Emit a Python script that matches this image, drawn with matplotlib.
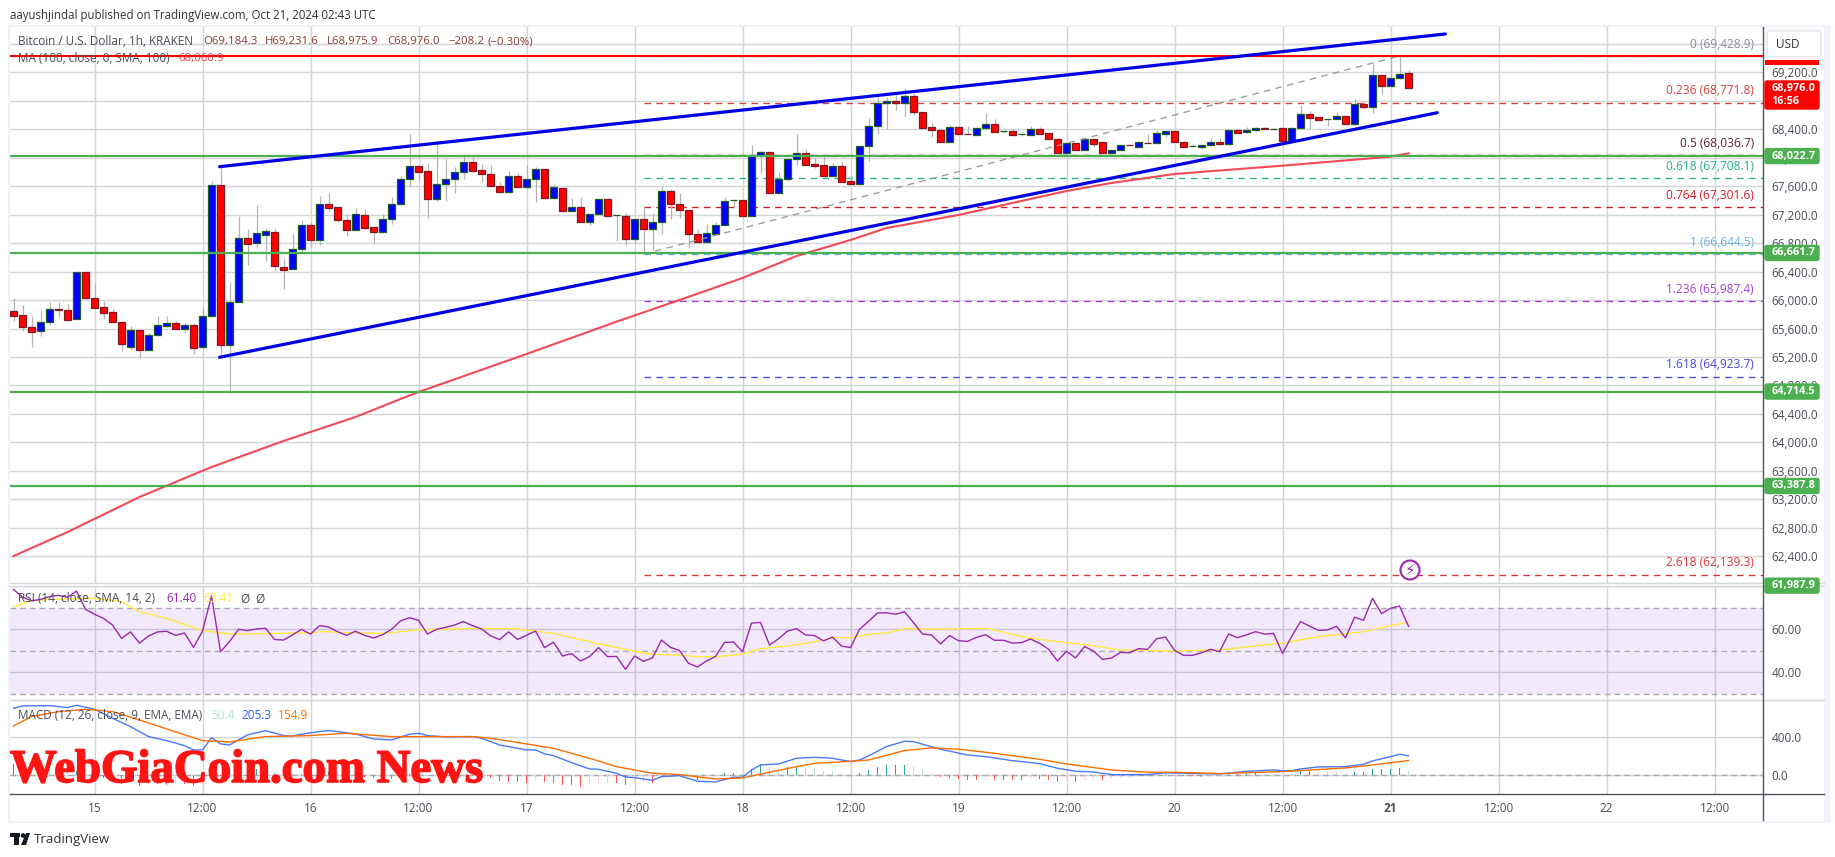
import matplotlib
matplotlib.use("Agg")
import matplotlib.pyplot as plt
import matplotlib.patheffects as pe
from matplotlib.lines import Line2D
from matplotlib.patches import Rectangle, FancyBboxPatch, Circle, Polygon
from matplotlib.transforms import IdentityTransform

W = 1835
H = 857

#candles, one per hour, hour 0 is Oct 15 00:00
bar_hours = list(range(-9, 147))
opens = [65841, 65785, 65617, 65560, 65687, 65870, 65855, 65729, 66389,
         66024, 65898, 65827, 65687, 65345, 65575, 65294, 65504, 65640, 65673, 65589, 65645,
         65336, 65771, 67612, 65364, 65968, 66867, 66797, 66909, 66951, 66460, 66431, 66712,
         67050, 66839, 67345, 67303, 67120, 66979, 67191, 67022, 66961, 67134, 67345, 67696,
         67879, 67809, 67415, 67626, 67696, 67795, 67935, 67823, 67767, 67598, 67514, 67739,
         67584, 67696, 67837, 67439, 67570, 67247, 67303, 67092, 67205, 67415, 67191, 67177,
         66853, 67134, 66994, 67092, 67528, 67345, 67261, 66924, 66811, 66933, 67050, 67401,
         67401, 67186, 68043, 68076, 67509, 67696, 67977, 68062, 67907, 67893, 67748, 67879,
         67668, 67636, 68160, 68441, 68764, 68792, 68764, 68863, 68638, 68427, 68394, 68216,
         68427, 68329, 68315, 68413, 68469, 68371, 68371, 68329, 68324, 68399, 68343, 68263,
         68071, 68202, 68104, 68268, 68216, 68071, 68104, 68174, 68155, 68212, 68202, 68338,
         68371, 68216, 68160, 68155, 68174, 68216, 68188, 68385, 68357, 68385, 68413, 68408,
         68413, 68240, 68413, 68610, 68567, 68539, 68539, 68582, 68479, 68750, 68717, 69158,
         69003, 69115, 69184]
closes = [65781, 65617, 65556, 65687, 65870, 65865, 65724, 66389, 66024,
          65893, 65823, 65687, 65378, 65575, 65294, 65504, 65645, 65673, 65589, 65645, 65331,
          65771, 67621, 65364, 65968, 66867, 66792, 66937, 66965, 66474, 66427, 66712, 67050,
          66839, 67345, 67298, 67120, 66979, 67204, 67017, 66961, 67134, 67345, 67696, 67879,
          67804, 67415, 67626, 67696, 67795, 67935, 67818, 67767, 67598, 67514, 67739, 67584,
          67696, 67837, 67439, 67584, 67247, 67303, 67092, 67205, 67415, 67186, 67195, 66853,
          67134, 66994, 67092, 67528, 67345, 67261, 66924, 66811, 66938, 67055, 67387, 67405,
          67186, 68043, 68076, 67509, 67696, 67977, 68062, 67903, 67888, 67748, 67879, 67664,
          67636, 68160, 68441, 68764, 68792, 68764, 68863, 68638, 68422, 68394, 68216, 68427,
          68329, 68327, 68413, 68469, 68357, 68376, 68324, 68333, 68399, 68338, 68258, 68071,
          68202, 68104, 68268, 68198, 68071, 68104, 68174, 68172, 68216, 68210, 68343, 68371,
          68216, 68155, 68160, 68174, 68216, 68188, 68385, 68352, 68390, 68413, 68399, 68408,
          68240, 68413, 68610, 68563, 68535, 68539, 68582, 68479, 68750, 68717, 69158, 69003,
          69115, 69172, 68976]
highs = [66029, 65930, 65776, 65860, 65973, 65973, 65945, 66389, 66389,
         66235, 65987, 65870, 65687, 65635, 65575, 65532, 65776, 65776, 65706, 65682, 65673,
         65884, 67672, 67874, 66254, 67181, 66998, 67335, 67012, 66998, 66591, 66928, 67125,
         67101, 67462, 67504, 67303, 67209, 67288, 67280, 67022, 67209, 67444, 67743, 68333,
         67879, 67931, 68249, 67982, 67874, 68052, 68015, 67912, 67898, 67664, 67813, 67790,
         67898, 67874, 67837, 67626, 67570, 67430, 67444, 67205, 67415, 67434, 67195, 67219,
         67134, 67322, 67219, 67603, 67556, 67504, 67261, 66999, 67069, 67102, 67453, 67405,
         67401, 68179, 68094, 68076, 67800, 67977, 68333, 68123, 67992, 68029, 67921, 67954,
         67757, 68160, 68558, 68848, 68858, 68877, 68975, 68905, 68638, 68493, 68394, 68460,
         68427, 68446, 68432, 68628, 68539, 68376, 68399, 68362, 68446, 68432, 68343, 68272,
         68202, 68202, 68282, 68282, 68216, 68104, 68174, 68174, 68226, 68333, 68390, 68371,
         68371, 68235, 68193, 68174, 68277, 68277, 68385, 68408, 68427, 68427, 68427, 68422,
         68413, 68427, 68741, 68661, 68567, 68539, 68642, 68582, 68820, 68792, 69317, 69158,
         69410, 69429, 69231]
lows = [65710, 65570, 65345, 65500, 65654, 65767, 65724, 65729, 66024,
        65893, 65738, 65687, 65289, 65303, 65190, 65294, 65504, 65626, 65589, 65542, 65247,
        65336, 65771, 65223, 64689, 65968, 66492, 66731, 66549, 66408, 66160, 66431, 66675,
        66745, 66773, 67256, 67101, 66900, 66979, 67003, 66797, 66947, 67069, 67345, 67593,
        67687, 67158, 67387, 67397, 67509, 67706, 67804, 67664, 67598, 67514, 67514, 67584,
        67570, 67383, 67420, 67420, 67247, 67247, 67092, 67055, 67205, 67186, 66835, 66774,
        66807, 66657, 66704, 66928, 67139, 67158, 66736, 66811, 66811, 66933, 67050, 67289,
        67186, 67186, 67790, 67509, 67509, 67673, 67898, 67903, 67860, 67748, 67748, 67664,
        67636, 67636, 67954, 68333, 68408, 68671, 68591, 68600, 68422, 68291, 68216, 68216,
        68329, 68327, 68315, 68413, 68357, 68352, 68324, 68310, 68324, 68338, 68258, 68071,
        68071, 68104, 68104, 68155, 68071, 68071, 68104, 68172, 68155, 68202, 68202, 68296,
        68216, 68155, 68155, 68127, 68174, 68174, 68174, 68352, 68352, 68376, 68399, 68399,
        68240, 68240, 68413, 68399, 68535, 68446, 68539, 68479, 68460, 68680, 68633, 68895,
        69003, 69106, 68976]

#moving average 100
ma_hours = [-9, -3, 5, 13, 21, 29, 34, 36, 48, 58, 65, 72, 75, 78, 84, 88, 96, 102, 108, 113, 120, 132, 144, 146]
ma_values = [62404, 62741, 63233, 63654, 64020, 64357, 64610, 64708, 65242, 65696, 66001, 66310, 66464, 66619,
             66844, 67012, 67195, 67364, 67532, 67645, 67771, 67888, 68014, 68061]

#hand drawn trend lines
upper_trend_hours = [13.9, 150.1]
upper_trend_prices = [67874, 69738]
lower_trend_hours = [13.9, 149.2]
lower_trend_prices = [65196, 68632]

green_levels = [68022.7, 66661.7, 64714.5, 63387.8]
red_level = 69430

fib_ratios = ["0", "0.236", "0.5", "0.618", "0.764", "1", "1.236", "1.618", "2.618"]
fib_prices = [69428.9, 68771.8, 68036.7, 67708.1, 67301.6, 66644.5, 65987.4, 64923.7, 62139.3]
fib_colors = ["#8a8d96", "#d9403f", "#5a2436", "#26b48c", "#d01c2c", "#64b0dc", "#a23fd8", "#4a4ae0", "#e0323c"]
fib_start_hour = 61
fib_swing_hours = [61, 145]
fib_swing_prices = [66644.5, 69428.9]

rsi_values = [78.6, 74.9, 73.3, 73.9, 75.2, 75.8, 74.9, 77.8, 69.3,
              67.0, 65.1, 62.0, 55.8, 58.8, 53.6, 56.9, 58.8, 59.1, 57.2, 58.3, 51.6,
              59.2, 75.5, 49.6, 54.3, 60.0, 59.4, 60.2, 60.5, 55.3, 55.0, 57.4, 60.0,
              57.8, 61.7, 61.1, 58.9, 57.2, 59.1, 57.2, 56.0, 57.5, 60.0, 63.9, 65.4,
              64.2, 57.8, 60.0, 60.9, 62.0, 63.6, 61.7, 60.2, 57.0, 55.2, 58.8, 55.3,
              57.2, 59.2, 51.5, 54.0, 47.6, 48.7, 45.3, 47.3, 51.5, 47.3, 47.4, 41.4,
              47.6, 45.1, 46.8, 55.0, 51.6, 50.1, 44.2, 42.5, 45.3, 47.4, 53.9, 54.1,
              49.6, 62.9, 63.2, 52.7, 55.6, 59.2, 60.3, 57.4, 57.1, 54.6, 56.4, 52.2,
              51.5, 60.0, 63.7, 67.6, 67.7, 67.0, 68.2, 63.1, 57.8, 57.4, 53.2, 57.1,
              54.7, 54.4, 56.3, 57.5, 54.9, 54.9, 53.6, 53.8, 55.5, 53.5, 50.8, 45.3,
              49.8, 46.7, 52.0, 49.9, 46.0, 46.7, 49.3, 49.1, 51.0, 50.7, 55.6, 56.4,
              50.2, 47.9, 47.9, 49.1, 50.7, 49.6, 57.8, 56.1, 57.4, 58.9, 57.8, 58.1,
              48.8, 56.6, 63.6, 61.5, 59.5, 59.7, 61.4, 56.0, 65.6, 64.2, 74.4, 67.3,
              69.8, 70.8, 61.4]
rsi_sma_hours = [-9, -7, -5, 0, 3, 5, 8, 12, 15.5, 20, 24, 25.5, 28, 32, 36, 42, 46.7, 51, 55, 58, 60, 62, 65, 67,
                 69, 72, 74, 77, 80, 82, 84, 86, 88, 90, 93.5, 99, 104, 108, 110, 114, 120, 125, 132, 136, 141, 146]
rsi_sma_values = [70.5, 73.3, 73.9, 74.4, 72.9, 68.2, 65.1, 59.4, 57.7, 58.1, 58.4, 59.0, 58.4, 58.1, 59.7, 60.4,
                  60.3, 58.1, 54.3, 51.5, 49.9, 48.4, 48.0, 47.3, 47.3, 48.4, 51.0, 52.2, 54.2, 56.1, 56.1, 57.7,
                  58.3, 60.3, 60.0, 60.5, 55.8, 53.8, 52.9, 50.4, 49.9, 50.4, 53.6, 56.6, 58.9, 63.41]

macd_hours = [-9, -8, -5, -3, -2, 0, 2, 4, 6, 8, 10, 11, 12, 13, 14, 15, 16, 17, 19, 21, 22, 23, 25, 26, 27, 29, 31,
              33, 35, 36, 37, 39, 42, 43, 45, 48, 49, 50, 51, 53, 55, 56, 58, 59, 60, 62, 63, 65, 67, 69, 71, 72, 73,
              74, 76, 78, 80, 82, 84, 85, 86, 88, 90, 91, 94, 97, 99, 102, 105, 107, 109, 111, 113, 117, 119, 121,
              125, 128, 131, 132, 133, 134, 136, 139, 141, 142, 144, 145, 146]
macd_values = [705, 730, 733, 712, 737, 695, 600, 512, 407, 365, 312, 267, 267, 396, 330, 319, 372, 425, 470, 418,
               414, 432, 460, 470, 460, 435, 382, 372, 432, 442, 418, 404, 407, 390, 319, 267, 267, 225, 207, 133,
               67, 63, 21, -18, -25, -53, -14, -4, -63, -70, -21, -21, 56, 109, 119, 179, 189, 179, 144, 161, 204,
               302, 358, 354, 274, 214, 196, 154, 123, 74, 42, 35, 7, 7, 25, 21, 14, 42, 56, 49, 49, 67, 88, 91,
               116, 151, 196, 221, 205.3]
signal_hours = [-9, -7, -4, -1, 2, 5, 8, 12, 15, 19, 24, 28, 33, 42, 44, 48, 51, 55, 58, 60, 62, 65, 69, 72, 75, 78,
                80, 84, 86, 90, 93, 96, 100, 105, 108, 113, 117, 120, 125, 132, 139, 142, 146]
signal_values = [519, 618, 670, 695, 670, 582, 488, 365, 351, 407, 418, 442, 407, 407, 390, 330, 284, 179, 91, 56,
                 21, 7, -39, -28, 32, 91, 126, 147, 161, 260, 288, 274, 232, 168, 119, 56, 32, 32, 18, 39, 77, 109,
                 154.9]
hist_values = [120, 110, 100, 85, 70, 50, 35, 50, 10,
               -5, -25, -70, -90, -70, -110, -90, -90, -100, -90, -90, -110,
               -100, 10, -10, -30, 30, 40, 70, 70, 30, 10, 10, 15,
               20, 30, 30, 20, 8, -5, -20, -30, -35, -35, -10, 15,
               25, 10, 3, -5, -5, 0, -3, -15, -30, -56, -70, -70,
               -84, -56, -70, -84, -98, -98, -119, -105, -91, -84, -84, -98,
               -84, -70, -80, -40, -20, -7, -10, -50, -30, -15, 25, 25,
               10, 70, 105, 90, 70, 85, 90, 85, 75, 50, 40, 20,
               5, 20, 55, 85, 105, 105, 105, 85, 55, 20, -15, -25,
               -35, -45, -50, -45, -45, -45, -50, -50, -40, -40, -45, -70,
               -60, -70, -50, -40, -50, -40, -30, -28, -20, -12, -5, 12,
               -3, -5, -12, -15, -5, -3, 10, 15, 20, 20, 14, 10,
               5, 14, 40, 40, 35, 32, 30, 10, 30, 30, 70, 70,
               70, 75, 50]

price_ticks = [62400 + 400 * i for i in range(19)]
rsi_ticks = [40, 60, 80]
macd_ticks = [0, 400]
time_ticks = [0, 12, 24, 36, 48, 60, 72, 84, 96, 108, 120, 132, 144, 156, 168, 180]
time_labels = ["15", "12:00", "16", "12:00", "17", "12:00", "18", "12:00", "19", "12:00", "20", "12:00",
               "21", "12:00", "22", "12:00"]

FONT = "Open Sans"
GRID = "#d3d5da"
TEXT = "#4a4d57"


def panelAxes(fig, top, bottom):
    left = 10
    right = 1763.4
    ax = fig.add_axes([left / W, 1 - bottom / H, (right - left) / W, (bottom - top) / H])
    ax.set_xlim(-9.39, 185.43)
    for s in ax.spines.values():
        s.set_visible(False)
    ax.yaxis.tick_right()
    ax.set_axisbelow(True)
    ax.grid(True, color=GRID, lw=1.0)
    ax.tick_params(length=0, labelsize=8.45, labelcolor=TEXT, pad=6)
    ax.set_xticks(time_ticks)
    ax.tick_params(axis="x", labelbottom=False)
    return ax


def pxText(fig, x, y, s, **kw):
    kw.setdefault("family", FONT)
    kw.setdefault("fontsize", 8.45)
    kw.setdefault("va", "center")
    kw.setdefault("zorder", 20)
    return fig.text(x, H - y, s, transform=IdentityTransform(), **kw)


def pxLine(fig, xs, ys, **kw):
    kw.setdefault("zorder", 6)
    fig.add_artist(Line2D(xs, [H - y for y in ys], transform=IdentityTransform(), **kw))


def priceTag(fig, y, height, color, text):
    fig.add_artist(FancyBboxPatch((1765, H - y - height / 2 + 1), 54, height - 2,
                                  boxstyle="round,pad=0,rounding_size=2", fc=color, ec=color, lw=1,
                                  transform=IdentityTransform(), zorder=15))
    pxText(fig, 1771.5, y, text, color="white", fontweight="bold", fontsize=7.9, linespacing=1.35)


def drawPrice(ax):
    ups = [c >= o for o, c in zip(opens, closes)]
    ax.vlines(bar_hours, lows, highs, color="#b4b4b4", lw=0.9, zorder=3)
    body = [c - o for o, c in zip(opens, closes)]
    faces = ["#0000ff" if u else "#ff0000" for u in ups]
    edges = ["#1b5e20" if u else "#801922" for u in ups]
    ax.bar(bar_hours, body, bottom=opens, width=0.72, color=faces, edgecolor=edges, lw=0.9, zorder=4)

    for ratio, price, color in zip(fib_ratios, fib_prices, fib_colors):
        ax.plot([fib_start_hour, 185.43], [price, price], color=color, lw=0.95, dashes=(5, 4), zorder=2)
        ax.annotate(f"{ratio} ({price:,.1f})", xy=(185.43, price), xytext=(-6.8, 8.6), textcoords="offset points",
                    ha="right", va="center", color=color, fontsize=8.6, family=FONT, annotation_clip=False, zorder=7)
    ax.plot(fib_swing_hours, fib_swing_prices, color="#9a9a9a", lw=0.95, dashes=(5, 4), zorder=5)

    ax.plot(ma_hours, ma_values, color="#f23645", lw=1.5, alpha=0.9, zorder=5)
    for level in green_levels:
        ax.axhline(level, color="#4caf50", lw=1.6, zorder=6)
    ax.axhline(red_level, color="#ff0000", lw=1.5, zorder=6)
    ax.plot(upper_trend_hours, upper_trend_prices, color="#0000e6", lw=2.3, zorder=7, solid_capstyle="round")
    ax.plot(lower_trend_hours, lower_trend_prices, color="#0000e6", lw=2.3, zorder=7, solid_capstyle="round")


def main():
    fig = plt.figure(figsize=(W / 100, H / 100), dpi=100, facecolor="white")

    #light frame round the chart
    fig.add_artist(Rectangle((8, H - 823), 1822, 798, fc="#f0f3fa", ec="none", transform=IdentityTransform(), zorder=-2))
    fig.add_artist(Rectangle((10, H - 820.7), 1814, 793.7, fc="white", ec="none", transform=IdentityTransform(), zorder=-1))

    ax = panelAxes(fig, 27, 583.5)
    ax.set_ylim(62018, 69836)
    ax.set_yticks(price_ticks)
    ax.set_yticklabels([f"{t:,.1f}" for t in price_ticks], family=FONT)
    drawPrice(ax)

    ax_rsi = panelAxes(fig, 586, 700.3)
    ax_rsi.set_ylim(27.0, 80.14)
    ax_rsi.set_yticks(rsi_ticks)
    ax_rsi.set_yticklabels([f"{t:.2f}" for t in rsi_ticks], family=FONT)
    ax_rsi.axhspan(30, 70, color="#8a2be2", alpha=0.1, lw=0, zorder=1)
    for level in [30, 50, 70]:
        ax_rsi.axhline(level, color="#a8aab0", lw=1.0, dashes=(4, 3), zorder=2)
    ax_rsi.plot(rsi_sma_hours, rsi_sma_values, color="#ffeb3b", lw=1.0, zorder=3)
    ax_rsi.plot(bar_hours, rsi_values, color="#9c27b0", lw=1.0, zorder=4)

    ax_macd = panelAxes(fig, 700.3, 794)
    ax_macd.set_ylim(-197, 789)
    ax_macd.set_yticks(macd_ticks)
    ax_macd.set_yticklabels([f"{t:.1f}" for t in macd_ticks], family=FONT)
    ax_macd.axhline(0, color="#a8aab0", lw=1.0, dashes=(4, 3), zorder=2)
    hist_colors = []
    for i, v in enumerate(hist_values):
        prev = hist_values[i - 1] if i else v
        if v >= 0:
            hist_colors.append("#26a69a" if v >= prev else "#b2dfdb")
        else:
            hist_colors.append("#ff5252" if v <= prev else "#ffcdd2")
    ax_macd.bar(bar_hours, hist_values, width=0.14, color=hist_colors, zorder=3)
    ax_macd.plot(macd_hours, macd_values, color="#2962ff", lw=1.0, alpha=0.85, zorder=4)
    ax_macd.plot(signal_hours, signal_values, color="#ff6d00", lw=1.0, zorder=5)
    ax_macd.tick_params(axis="x", labelbottom=True, pad=5.5)
    ax_macd.set_xticklabels(time_labels, family=FONT)
    ax_macd.get_xticklabels()[12].set_fontweight("bold")

    #separators and scale lines
    pxLine(fig, [10, 1824], [583.3, 583.3], color=GRID, lw=1.0)
    pxLine(fig, [10, 1824], [586.3, 586.3], color=GRID, lw=1.0)
    pxLine(fig, [10, 1824], [700.3, 700.3], color=GRID, lw=1.0)
    pxLine(fig, [10, 1824], [794, 794], color="#50535e", lw=1.0)
    pxLine(fig, [1763.4, 1763.4], [27, 820], color="#50535e", lw=1.0)

    #header and legends
    pxText(fig, 10, 15, "aayushjindal published on TradingView.com, Oct 21, 2024 02:43 UTC", color="#333333", fontsize=8.3)
    pxText(fig, 18, 41.7, "Bitcoin / U.S. Dollar, 1h, KRAKEN", color=TEXT, fontsize=8.45)
    brown = "#8a3a3a"
    for x, s in zip([203, 265, 327, 387, 448, 488],
                    ["O69,184.3", "H69,231.6", "L68,975.9", "C68,976.0", "\u2212208.2", "(\u22120.30%)"]):
        pxText(fig, x, 41.7, s, color=brown, fontsize=8.2)
    pxText(fig, 18, 59, "MA (100, close, 0, SMA, 100)", color=TEXT)
    pxText(fig, 178, 59, "68,060.9", color="#f23645", fontsize=8.2)
    pxText(fig, 18, 599, "RSI (14, close, SMA, 14, 2)", color=TEXT)
    pxText(fig, 166, 599, "61.40", color="#9c27b0")
    pxText(fig, 203, 599, "63.41", color="#ffeb3b")
    pxText(fig, 240, 599, "\u00d8", color=TEXT)
    pxText(fig, 255, 599, "\u00d8", color=TEXT)
    pxText(fig, 18, 715.7, "MACD (12, 26, close, 9, EMA, EMA)", color=TEXT)
    pxText(fig, 211, 715.7, "50.4", color="#b2dfdb")
    pxText(fig, 241, 715.7, "205.3", color="#2962ff")
    pxText(fig, 278, 715.7, "154.9", color="#ff6d00")

    mark = pxText(fig, 10, 771, "WebGiaCoin.com News", family="Liberation Serif", fontweight="bold", fontsize=33.7,
                  color="#ff1414")
    mark.set_path_effects([pe.withStroke(linewidth=1.2, foreground="#ff1414")])

    #price tags on the scale
    for level in green_levels + [61987.9]:
        y = H - ax.transData.transform((0, level))[1]
        priceTag(fig, y, 17, "#4caf50", f"{level:,.1f}")
    fig.add_artist(Rectangle((1765, H - 64.7), 54, 5, fc="#ff0000", ec="none", transform=IdentityTransform(), zorder=14))
    priceTag(fig, 95, 30, "#ff0000", "68,976.0\n16:56")

    #currency button
    fig.add_artist(FancyBboxPatch((1767, H - 56.7), 54, 26, boxstyle="round,pad=0,rounding_size=3", fc="white",
                                  ec="#e6e8ee", lw=1.2, transform=IdentityTransform(), zorder=16))
    pxText(fig, 1776, 44, "USD", color="#333333")

    #flash icon
    fig.add_artist(Circle((1410, H - 570), 9.5, fc="white", ec="#9c27b0", lw=1.5, transform=IdentityTransform(), zorder=16))
    pxText(fig, 1410, 570, "\u26a1", family="DejaVu Sans", fontsize=11, color="#9c27b0", ha="center")

    #logo at the bottom
    fig.add_artist(Rectangle((10, H - 837), 10, 4, fc="#131722", ec="none", transform=IdentityTransform()))
    fig.add_artist(Rectangle((14, H - 845), 5, 12, fc="#131722", ec="none", transform=IdentityTransform()))
    fig.add_artist(Circle((23, H - 835.5), 2.3, fc="#131722", ec="none", transform=IdentityTransform()))
    fig.add_artist(Polygon([(21, H - 845), (26, H - 833), (30, H - 833), (26, H - 845)], fc="#131722", ec="none",
                           transform=IdentityTransform()))
    pxText(fig, 33.5, 839, "TradingView", color="#333333", fontsize=9.5)

    fig.savefig("out.png", dpi=100)


if __name__ == "__main__":
    main()
